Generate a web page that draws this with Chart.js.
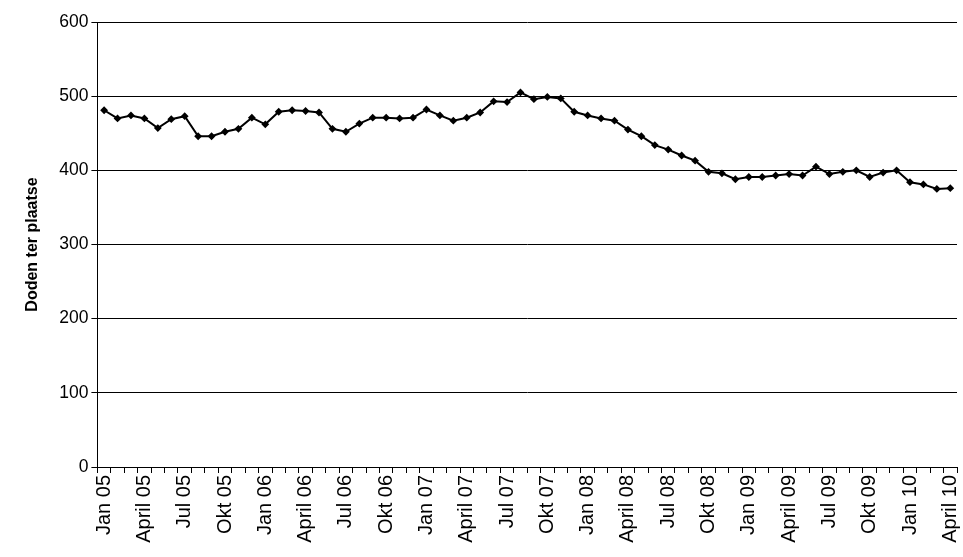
<!DOCTYPE html>
<html><head><meta charset="utf-8">
<script src="https://cdn.jsdelivr.net/npm/chart.js@4/dist/chart.umd.min.js"></script>
<style>html,body{margin:0;background:#fff;overflow:hidden;height:557px}#wrap{width:963px;height:578px}</style>
</head><body><div id="wrap"><canvas id="c"></canvas></div>
<script>
const months = ['Jan','Feb','Maart','April','Mei','Jun','Jul','Aug','Sep','Okt','Nov','Dec'];
const years = ['05','06','07','08','09','10'];
const labels = [];
years.forEach(y => months.forEach(m => labels.push(m + ' ' + y)));
labels.length = 64;
const doden = [481,470,474,470,457,469,473,446,446,452,456,471,
  462,479,481,480,478,456,452,463,471,471,470,471,
  482,474,467,471,478,493,492,505,496,499,497,479,
  474,470,467,455,446,434,428,420,413,398,396,388,
  391,391,393,395,393,405,395,398,400,391,397,400,
  384,381,375,376];
const shownTicks = ['Jan','April','Jul','Okt'];

new Chart(document.getElementById('c'), {
  type: 'line',
  data: { labels: labels, datasets: [{
    data: doden, borderColor: '#000', borderWidth: 2,
    pointRadius: 2.5, pointStyle: 'rectRot', pointBackgroundColor: '#000', pointBorderColor: '#000',
    tension: 0
  }]},
  options: {
    responsive: true, maintainAspectRatio: false, animation: false,
    layout: { padding: { left: 19, right: 0, top: 22, bottom: 0 } },
    plugins: { legend: { display: false }, tooltip: { enabled: false } },
    scales: {
      x: {
        offset: true,
        afterFit: s => { s.height = 111; s.paddingRight = 5; },
        grid: { display: true, drawOnChartArea: false, offset: true, color: '#000', tickLength: 6 },
        border: { color: '#000' },
        ticks: {
          autoSkip: false, maxRotation: 90, minRotation: 90, color: '#000', padding: 2,
          font: { family: 'Liberation Sans, Arial', size: 20 },
          callback: function(v) { const l = labels[v]; return shownTicks.includes(l.split(' ')[0]) ? l : ''; }
        }
      },
      y: {
        min: 0, max: 600,
        ticks: { stepSize: 100, color: '#000', font: { family: 'Liberation Sans, Arial', size: 17.5 } },
        grid: { color: '#000', tickLength: 6 },
        border: { color: '#000' },
        title: { display: true, text: 'Doden ter plaatse', color: '#000', padding: { bottom: 14 },
          font: { family: 'Liberation Sans, Arial', size: 16, weight: 'bold' } }
      }
    }
  }
});
</script></body></html>
